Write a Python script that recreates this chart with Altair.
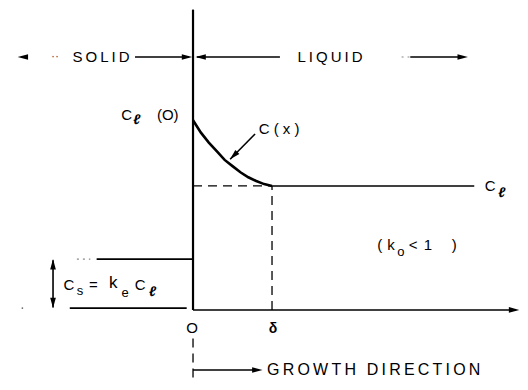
import altair as alt
import pandas as pd

# ---- concentration profile (x in units of delta, C in units of C_l) ----
curve_x = [0, 0.1, 0.2, 0.3, 0.4, 0.5, 0.6, 0.7, 0.8, 0.9, 1.0]
curve_c = [1.53, 1.43, 1.35, 1.28, 1.21, 1.16, 1.11, 1.07, 1.04, 1.015, 1.0]
C_L = 1.0
C_S = 0.41
C_L0 = 1.53
DELTA = 1.0
TOP = 2.04      # level of SOLID / LIQUID arrows
GROW = -0.484   # level of growth-direction arrow

# solid line segments
seg_x  = [0, 0, -1.22, -1.56, -1.772, DELTA, 0, -0.734, 0.05, 2.75, 0.785]
seg_x2 = [0, 4.08, 0, -0.08, -1.772, 3.56, 0.82, -0.05, 1.1, 3.43, 0.47]
seg_y  = [0, 0, C_S, 0.015, 0.02, C_L, GROW, TOP, TOP, TOP, 1.419]
seg_y2 = [2.42, 0, C_S, 0.015, 0.40, C_L, GROW, TOP, TOP, TOP, 1.215]

# dashed segments
dash_x  = [0, DELTA, 0]
dash_x2 = [DELTA, DELTA, 0]
dash_y  = [C_L, 0, -0.23]
dash_y2 = [C_L, C_L, -0.59]

# faint dotted bits
dot_x  = [-1.47, 2.64]
dot_x2 = [-1.30, 2.74]
dot_y  = [C_S, TOP]

# arrowheads (tip position, direction in degrees)
head_x = [4.13, -2.22, -0.01, 0.03, 3.48, 0.88, 0.468, -1.772, -1.772]
head_y = [0, TOP, TOP, TOP, TOP, GROW, 1.215, C_S, 0.015]
head_a = [0, 180, 0, 180, 0, 0, 135, 270, 90]

# text labels
sp = "\u2009"
txt_main = [sp.join("SOLID"), sp.join("LIQUID"), "C", "(O)", "C ( x )", "C",
            "C", "=", "C", "O", "(", "k", "<", "1", ")"]
txt_main_x = [-1.165, 1.734, -0.84, -0.32, 1.089, 3.76,
              -1.57, -1.262, -0.67, -0.013, 2.365, 2.506, 2.785, 2.975, 3.306]
txt_main_y = [2.04, 2.04, 1.573, 1.573, 1.46, 1.0,
              0.2, 0.2, 0.2, -0.145, 0.524, 0.524, 0.524, 0.524, 0.524]

txt_big = ["k"]
txt_big_x = [-1.01]
txt_big_y = [0.215]

txt_sub = ["s", "e", "o"]
txt_sub_x = [-1.43, -0.86, 2.63]
txt_sub_y = [0.15, 0.14, 0.47]

txt_bold = ["ℓ", "ℓ", "ℓ"]
txt_bold_x = [-0.71, 3.91, -0.51]
txt_bold_y = [1.532, 0.944, 0.145]

txt_delta = ["δ"]
txt_delta_x = [1.013]
txt_delta_y = [-0.153]

txt_left = [sp.join("GROWTH DIRECTION")]
txt_left_x = [0.937]
txt_left_y = [GROW]

speck_x = [-2.16]
speck_y = [0.015]

xs = alt.Scale(domain=[-2.342, 4.139], nice=False, zero=False)
ys = alt.Scale(domain=[-0.581, 2.435], nice=False, zero=False)
FONT = "Liberation Sans"


def X(f="x"):
    return alt.X(f"{f}:Q", scale=xs, axis=None)


def Y(f="y"):
    return alt.Y(f"{f}:Q", scale=ys, axis=None)


segs = pd.DataFrame({"x": seg_x, "x2": seg_x2, "y": seg_y, "y2": seg_y2})
dashes = pd.DataFrame({"x": dash_x, "x2": dash_x2, "y": dash_y, "y2": dash_y2})
dots = pd.DataFrame({"x": dot_x, "x2": dot_x2, "y": dot_y, "y2": dot_y})
heads = pd.DataFrame({"x": head_x, "y": head_y, "a": head_a})
curve = pd.DataFrame({"x": curve_x, "y": curve_c})

rules = alt.Chart(segs).mark_rule(color="black", strokeWidth=1.6).encode(
    x=X(), x2="x2:Q", y=Y(), y2="y2:Q")
dashed = alt.Chart(dashes).mark_rule(color="black", strokeWidth=1.3, strokeDash=[9, 6]).encode(
    x=X(), x2="x2:Q", y=Y(), y2="y2:Q")
dotted = alt.Chart(dots).mark_rule(color="#888", strokeWidth=1.2, strokeDash=[2, 4]).encode(
    x=X(), x2="x2:Q", y=Y(), y2="y2:Q")
axis_v = alt.Chart(pd.DataFrame({"x": [0], "y": [0], "y2": [2.42]})).mark_rule(
    color="black", strokeWidth=2.2).encode(x=X(), y=Y(), y2="y2:Q")
line = alt.Chart(curve).mark_line(color="black", strokeWidth=2.6).encode(
    x=X(), y=Y(), order="x:Q")
arrows = alt.Chart(heads).mark_point(
    shape="M0,0L-2.2,-0.6L-2.2,0.6Z", filled=True, color="black", opacity=1, size=90
).encode(x=X(), y=Y(), angle=alt.Angle("a:Q", scale=None))
speck = alt.Chart(pd.DataFrame({"x": speck_x, "y": speck_y})).mark_point(
    shape="circle", filled=True, color="#666", opacity=1, size=3
).encode(x=X(), y=Y())


def text_layer(texts, tx, ty, size, align="center", weight="normal", style="normal", color="black"):
    df = pd.DataFrame({"x": tx, "y": ty, "t": texts})
    return alt.Chart(df).mark_text(
        font=FONT, fontSize=size, align=align, baseline="middle",
        fontWeight=weight, fontStyle=style, color=color
    ).encode(x=X(), y=Y(), text="t:N")


labels = alt.layer(
    text_layer(txt_main, txt_main_x, txt_main_y, 15),
    text_layer(txt_big, txt_big_x, txt_big_y, 17),
    text_layer(txt_sub, txt_sub_x, txt_sub_y, 13),
    text_layer(txt_bold, txt_bold_x, txt_bold_y, 14, weight="bold", style="italic"),
    text_layer(txt_delta, txt_delta_x, txt_delta_y, 14, weight="bold"),
    text_layer(txt_left, txt_left_x, txt_left_y, 16, align="left"),
    text_layer(["··"], [-1.747], [2.05], 12, color="#555"),
)

chart = alt.layer(dotted, dashed, rules, axis_v, line, arrows, speck, labels).properties(
    width=512, height=374, padding=0, autosize="none", background="white"
).configure_view(stroke=None)

chart.save("out.html", embed_options={"renderer": "svg", "actions": False})
